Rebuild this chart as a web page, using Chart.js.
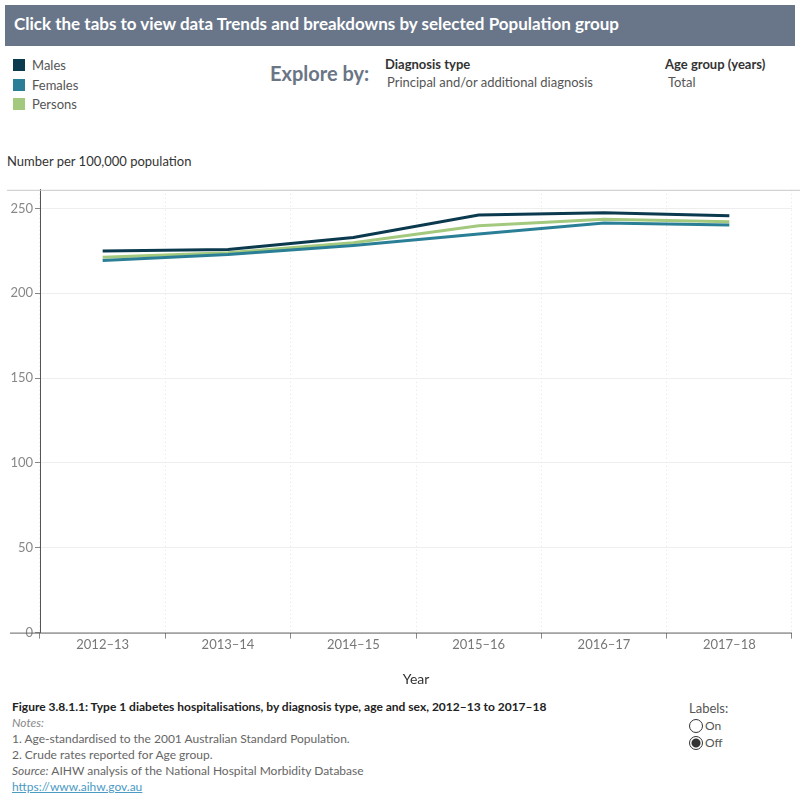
<!DOCTYPE html>
<html>
<head>
<meta charset="utf-8">
<script src="https://cdn.jsdelivr.net/npm/chart.js@4"></script>
<style>
  body { margin: 0; width: 800px; height: 800px; background: #fff; font-family: Lato, "Open Sans", sans-serif; position: relative; overflow: hidden; }
  .abs { position: absolute; white-space: nowrap; }
  #header { left: 5px; top: 5px; width: 790px; height: 41px; background: #69768a; color: #fff; font-weight: bold; font-size: 17px; line-height: 38px; padding-left: 9px; box-sizing: border-box; }
  .leg { left: 13px; font-size: 13px; color: #555; }
  .leg span { display: inline-block; width: 12px; height: 12px; vertical-align: -1px; margin-right: 7px; }
  .lbl { font-size: 13px; color: #333; font-weight: bold; }
  .val { font-size: 13px; color: #555; }
  .foot { left: 12px; font-size: 12px; color: #666; }
  #chartBox { left: 0; top: 180px; width: 800px; height: 514px; }
</style>
</head>
<body>
<div id="header" class="abs">Click the tabs to view data Trends and breakdowns by selected Population group</div>

<div class="abs leg" style="top:57px"><span style="background:#0b3a4f"></span>Males</div>
<div class="abs leg" style="top:77px"><span style="background:#2a7f96"></span>Females</div>
<div class="abs leg" style="top:96px"><span style="background:#a3c97e"></span>Persons</div>

<div class="abs" style="left:270px; top:61px; font-size:20px; font-weight:bold; color:#6a7585;">Explore by:</div>
<div class="abs lbl" style="left:385px; top:56px;">Diagnosis type</div>
<div class="abs val" style="left:387px; top:74px;">Principal and/or additional diagnosis</div>
<div class="abs lbl" style="left:665px; top:56px;">Age group (years)</div>
<div class="abs val" style="left:668px; top:74px;">Total</div>

<div class="abs" style="left:7px; top:153px; font-size:13px; color:#333;">Number per 100,000 population</div>

<div id="chartBox" class="abs"><canvas id="chart"></canvas></div>

<div class="abs foot" style="top:699px; color:#222; font-weight:bold;">Figure 3.8.1.1: Type 1 diabetes hospitalisations, by diagnosis type, age and sex, 2012&ndash;13 to 2017&ndash;18</div>
<div class="abs foot" style="top:715px; font-style:italic; color:#888;">Notes:</div>
<div class="abs foot" style="top:731px;">1. Age-standardised to the 2001 Australian Standard Population.</div>
<div class="abs foot" style="top:747px;">2. Crude rates reported for Age group.</div>
<div class="abs foot" style="top:763px;"><i>Source:</i> AIHW analysis of the National Hospital Morbidity Database</div>
<div class="abs foot" style="top:779px; color:#4a9ac4; text-decoration:underline;">https://www.aihw.gov.au</div>

<div class="abs" style="left:689px; top:700px; font-size:13px; color:#555;">Labels:</div>
<div class="abs" style="left:689px; top:718px; font-size:12px; color:#555;"><span style="display:inline-block;width:12px;height:12px;border:1px solid #333;border-radius:50%;vertical-align:-3px;margin-right:2px"></span>On</div>
<div class="abs" style="left:689px; top:735px; font-size:12px; color:#555;"><span style="display:inline-block;width:12px;height:12px;border:1px solid #333;border-radius:50%;vertical-align:-3px;margin-right:2px;background:radial-gradient(circle,#333 0,#333 4px,#fff 5px)"></span>Off</div>

<script>
const years = ['2012\u201313', '2013\u201314', '2014\u201315', '2015\u201316', '2016\u201317', '2017\u201318'];
const males = [225.0, 225.8, 232.9, 246.1, 247.5, 245.7];
const females = [219.3, 222.8, 228.1, 235.0, 241.5, 240.2];
const persons = [221.3, 223.9, 229.8, 239.8, 243.7, 242.2];
const yTicks = [0, 50, 100, 150, 200, 250];

// frame lines like the original (top rule and extended x axis)
const framePlugin = {
    id: 'frame',
    afterDraw(chart) {
        const { ctx, chartArea } = chart;
        ctx.save();
        ctx.strokeStyle = '#c8c8c8';
        ctx.lineWidth = 1;
        ctx.beginPath();
        ctx.moveTo(7, chartArea.top + 0.5);
        ctx.lineTo(800, chartArea.top + 0.5);
        ctx.stroke();
        ctx.strokeStyle = '#666';
        ctx.beginPath();
        ctx.moveTo(10, chartArea.bottom + 0.5);
        ctx.lineTo(chartArea.right, chartArea.bottom + 0.5);
        ctx.stroke();
        ctx.restore();
    }
};

const ctx = document.getElementById('chart').getContext('2d');
new Chart(ctx, {
    type: 'line',
    data: {
        labels: years,
        datasets: [
            { label: 'Persons', data: persons, borderColor: '#a3c97e', order: 2 },
            { label: 'Females', data: females, borderColor: '#2a7f96', order: 1 },
            { label: 'Males', data: males, borderColor: '#0b3a4f', order: 0 }
        ]
    },
    options: {
        responsive: true,
        maintainAspectRatio: false,
        animation: false,
        layout: { padding: { top: 8, right: 8, bottom: 2, left: 0 } },
        elements: {
            line: { borderWidth: 3, tension: 0 },
            point: { radius: 0 }
        },
        plugins: {
            legend: { display: false },
            tooltip: { enabled: false }
        },
        scales: {
            x: {
                offset: true,
                grid: {
                    offset: true,
                    color: '#e4e4e4',
                    tickColor: '#888',
                    tickLength: 6
                },
                border: { display: false, dash: [1, 3] },
                ticks: { color: '#777', font: { family: 'Lato', size: 13 }, padding: -2, maxRotation: 0 },
                title: { display: true, text: 'Year', color: '#333', font: { family: 'Lato', size: 14 }, padding: { top: 21 } }
            },
            y: {
                min: 0,
                max: 261,
                afterBuildTicks: scale => { scale.ticks = yTicks.map(v => ({ value: v })); },
                afterFit: scale => { scale.width = 40; },
                grid: { color: '#eeeeee', tickColor: '#888', tickLength: 5 },
                border: { display: true, color: '#555' },
                ticks: { color: '#888', font: { family: 'Lato', size: 13 }, padding: 2 }
            }
        }
    },
    plugins: [framePlugin]
});
</script>
</body>
</html>
